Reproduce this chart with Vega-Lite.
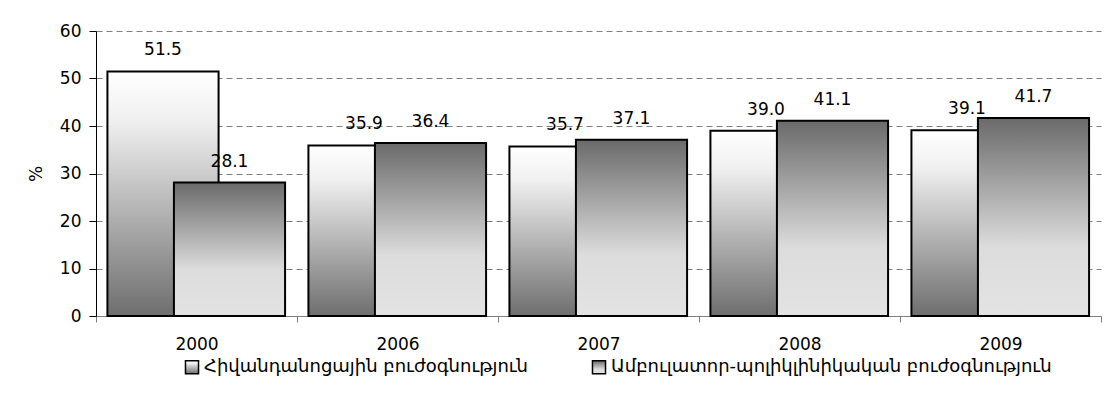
{
  "$schema": "https://vega.github.io/schema/vega-lite/v6.json",
  "autosize": {"type": "none"},
  "width": 1005,
  "height": 285,
  "padding": {"left": 96, "top": 31, "right": 14, "bottom": 87},
  "background": "white",
  "config": {
    "view": {"stroke": null},
    "font": "DejaVu Sans"
  },
  "data": {
    "values": [
      {"year": "2000", "series": "Հիվանդանոցային բուժօգնություն", "value": 51.5},
      {"year": "2006", "series": "Հիվանդանոցային բուժօգնություն", "value": 35.9},
      {"year": "2007", "series": "Հիվանդանոցային բուժօգնություն", "value": 35.7},
      {"year": "2008", "series": "Հիվանդանոցային բուժօգնություն", "value": 39.0},
      {"year": "2009", "series": "Հիվանդանոցային բուժօգնություն", "value": 39.1},
      {"year": "2000", "series": "Ամբուլատոր-պոլիկլինիկական բուժօգնություն", "value": 28.1},
      {"year": "2006", "series": "Ամբուլատոր-պոլիկլինիկական բուժօգնություն", "value": 36.4},
      {"year": "2007", "series": "Ամբուլատոր-պոլիկլինիկական բուժօգնություն", "value": 37.1},
      {"year": "2008", "series": "Ամբուլատոր-պոլիկլինիկական բուժօգնություն", "value": 41.1},
      {"year": "2009", "series": "Ամբուլատոր-պոլիկլինիկական բուժօգնություն", "value": 41.7}
    ]
  },
  "encoding": {
    "x": {
      "field": "year",
      "type": "nominal",
      "scale": {"paddingInner": 0, "paddingOuter": 0},
      "axis": {
        "title": null,
        "labelAngle": 0,
        "tickBand": "extent",
        "domainColor": "#808080",
        "domainWidth": 1,
        "tickColor": "#808080",
        "tickSize": 6,
        "labelPadding": 14,
        "labelFontSize": 17,
        "labelColor": "#000000",
        "labelFont": "DejaVu Sans"
      }
    },
    "y": {
      "field": "value",
      "type": "quantitative",
      "scale": {"domain": [0, 60]},
      "axis": {
        "title": "%",
        "titleFontSize": 17,
        "titleFontWeight": "normal",
        "titleColor": "#000000",
        "titlePadding": 14,
        "titleFont": "DejaVu Sans",
        "values": [0, 10, 20, 30, 40, 50, 60],
        "labelFontSize": 17,
        "labelColor": "#000000",
        "labelFont": "DejaVu Sans",
        "labelPadding": 8,
        "tickSize": 7,
        "tickColor": "#000000",
        "domainColor": "#000000",
        "grid": true,
        "gridColor": "#808080",
        "gridDash": [6, 4],
        "gridWidth": 1
      }
    }
  },
  "layer": [
    {
      "transform": [{"filter": "datum.series === 'Հիվանդանոցային բուժօգնություն'"}],
      "mark": {"type": "bar", "width": {"band": 0.553}, "xOffset": -33.5, "stroke": "#000000", "strokeWidth": 2},
      "encoding": {
        "fill": {
          "field": "series",
          "type": "nominal",
          "scale": {
            "domain": ["Հիվանդանոցային բուժօգնություն", "Ամբուլատոր-պոլիկլինիկական բուժօգնություն"],
            "range": [
              {"expr": "{gradient: 'linear', x1: 0, y1: 0, x2: 0, y2: 1, stops: [{offset: 0, color: '#ffffff'}, {offset: 0.2, color: '#f0f0f0'}, {offset: 1, color: '#6e6e6e'}]}"},
              {"expr": "{gradient: 'linear', x1: 0, y1: 0, x2: 0, y2: 1, stops: [{offset: 0, color: '#6a6a6a'}, {offset: 0.65, color: '#dcdcdc'}, {offset: 1, color: '#e3e3e3'}]}"}
            ]
          },
          "legend": {
            "title": null,
            "orient": "none",
            "direction": "horizontal",
            "legendX": 87,
            "legendY": 327,
            "symbolType": "square",
            "symbolSize": 170,
            "symbolStrokeColor": "#000000",
            "symbolStrokeWidth": 1.5,
            "labelFont": "DejaVu Sans",
            "labelFontSize": 18,
            "labelColor": "#000000",
            "labelOffset": 3,
            "columnPadding": 60,
            "labelLimit": 700
          }
        }
      }
    },
    {
      "transform": [{"filter": "datum.series !== 'Հիվանդանոցային բուժօգնություն'"}],
      "mark": {"type": "bar", "width": {"band": 0.553}, "xOffset": 33, "stroke": "#000000", "strokeWidth": 2},
      "encoding": {
        "fill": {"field": "series", "type": "nominal"}
      }
    },
    {
      "transform": [{"filter": "datum.series === 'Հիվանդանոցային բուժօգնություն'"}],
      "mark": {"type": "text", "dx": -33.5, "dy": -21, "baseline": "middle", "fontSize": 17, "font": "DejaVu Sans", "color": "#000000"},
      "encoding": {
        "text": {"field": "value", "type": "quantitative", "format": ".1f"}
      }
    },
    {
      "transform": [{"filter": "datum.series !== 'Հիվանդանոցային բուժօգնություն'"}],
      "mark": {"type": "text", "dx": 33, "dy": -21, "baseline": "middle", "fontSize": 17, "font": "DejaVu Sans", "color": "#000000"},
      "encoding": {
        "text": {"field": "value", "type": "quantitative", "format": ".1f"}
      }
    }
  ]
}
